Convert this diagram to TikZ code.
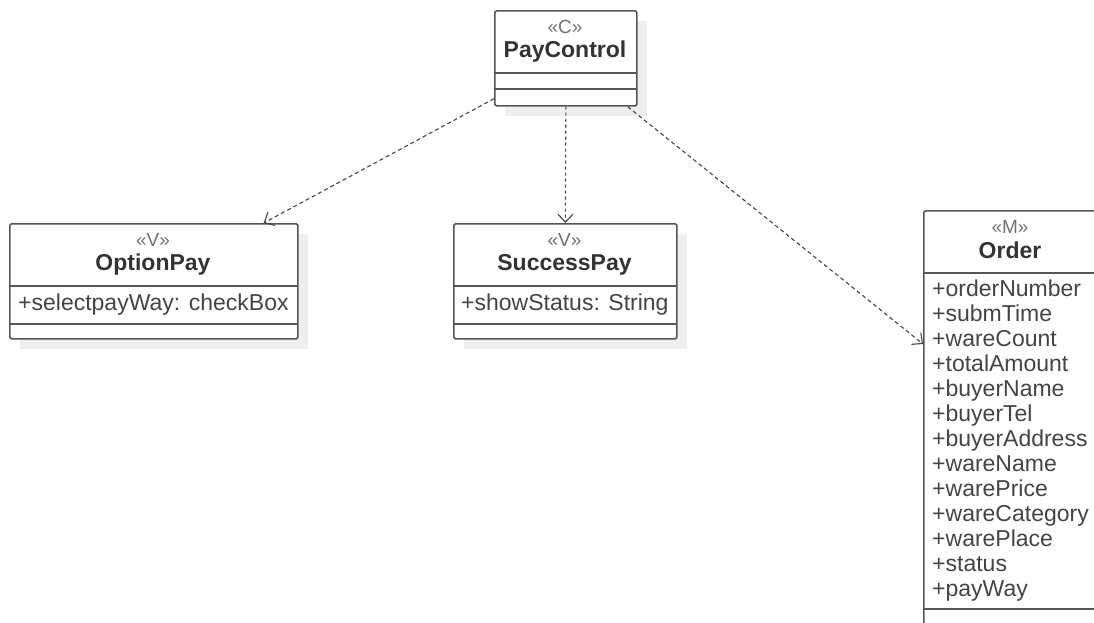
\documentclass[tikz,border=0pt]{standalone}
\usepackage{fontspec}
\setmainfont{Liberation Sans}
\usetikzlibrary{arrows.meta,calc}
\definecolor{linegray}{HTML}{555555}
\definecolor{shadowgray}{HTML}{EEEEEE}
\definecolor{textdark}{HTML}{333333}
\definecolor{textattr}{HTML}{444444}
\definecolor{textstereo}{HTML}{707070}
\definecolor{depgray}{HTML}{444444}
\tikzset{
  classbox/.style={draw=linegray, line width=1.7pt, fill=white, rounded corners=1.5pt,
    inner sep=0pt, anchor=north west},
  divider/.style={draw=linegray, line width=1.7pt},
  stereo/.style={text=textstereo, font=\fontsize{19}{21}\selectfont, inner sep=0pt,
    text height=14pt, text depth=4pt},
  cname/.style={text=textdark, font=\fontsize{23}{25}\selectfont\bfseries, inner sep=0pt,
    text height=17pt, text depth=5pt},
  attr/.style={text=textattr, font=\fontsize{23}{25}\selectfont, inner sep=0pt, anchor=west,
    text height=17pt, text depth=5pt},
  dep/.style={draw=depgray, line width=1.1pt, dash pattern=on 4pt off 3pt,
    -{Straight Barb[length=8pt,width=15pt,line width=1.1pt]}},
}
% class box: #1 name, (#2,#3) top left, (#4,#5) bottom right
\newcommand{\umlbox}[5]{%
  \fill[shadowgray] (#2+11,#3+11) rectangle (#4+11,#5+11);
  \node[classbox, minimum width=#4pt-#2pt, minimum height=#5pt-#3pt] (#1) at (#2,#3) {};
}
\begin{document}
\begin{tikzpicture}[x=1pt,y=-1pt]
\useasboundingbox (0,0) rectangle (1094,622);
\clip (0,0) rectangle (1094,622);
\fill[white] (0,0) rectangle (1094,622);

% PayControl
\umlbox{pc}{494}{10}{636}{105}
\draw[divider] (494,73) -- (636,73);
\draw[divider] (494,89) -- (636,89);
\node[stereo] (pcst) at (565,28) {«C»};
\node[cname] (pcname) at (565,51) {PayControl};

% OptionPay
\umlbox{op}{9}{223}{297}{338}
\draw[divider] (9,286) -- (297,286);
\draw[divider] (9,324) -- (297,324);
\node[stereo] (opst) at (153,241) {«V»};
\node[cname] (opname) at (153,264) {OptionPay};
\node[attr] (opa) at (18,304) {+selectpayWay: checkBox};

% SuccessPay
\umlbox{sp}{453}{223}{676}{338}
\draw[divider] (453,286) -- (676,286);
\draw[divider] (453,324) -- (676,324);
\node[stereo] (spst) at (564.5,241) {«V»};
\node[cname] (spname) at (564.5,264) {SuccessPay};
\node[attr] (spa) at (461,304) {+showStatus: String};

% Order
\node[classbox, minimum width=220pt, minimum height=460pt] (or) at (923,210) {};
\draw[divider] (923,273) -- (1143,273);
\draw[divider] (923,609) -- (1143,609);
\node[stereo] (orst) at (1010,228) {«M»};
\node[cname] (orname) at (1010,252) {Order};
\foreach \a [count=\i from 0] in {orderNumber,submTime,wareCount,totalAmount,buyerName,
  buyerTel,buyerAddress,wareName,warePrice,wareCategory,warePlace,status,payWay}
  \node[attr] (ora\i) at (932,{290+25*\i}) {+\a};

% dependencies
\draw[dep] ([yshift=8pt]pc.south west) -- ([xshift=-35pt]op.north east);
\draw[dep, dash pattern=on 3pt off 3pt] (pc.south) -- (sp.north);
\draw[dep] ([xshift=-10pt]pc.south east) -- ([yshift=-134pt]or.north west);
\end{tikzpicture}
\end{document}
